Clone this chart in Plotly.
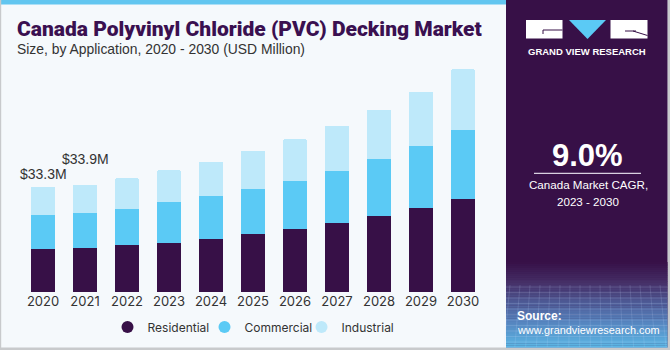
import plotly.graph_objects as go

years = ["2020", "2021", "2022", "2023", "2024", "2025", "2026", "2027", "2028", "2029", "2030"]
residential = [13.6, 13.8, 14.8, 15.5, 16.9, 18.4, 19.9, 22.0, 24.2, 26.6, 29.6]
commercial = [10.7, 11.2, 11.6, 12.9, 13.5, 14.3, 15.4, 16.4, 18.0, 19.7, 21.9]
industrial = [9.0, 8.9, 9.7, 10.2, 10.9, 12.1, 13.1, 14.2, 15.5, 17.1, 19.1]
series_names = ["Residential", "Commercial", "Industrial"]
labelled_years = ["2020", "2021"]
label_texts = ["$33.3M", "$33.9M"]

C_RES = "#371047"
C_COM = "#5BCAF5"
C_IND = "#BEE9FA"
BG = "#F5F9FC"
PANEL = "#371047"

W, H = 670, 350
ML, MR, MT, MB = 22, 186, 40, 58
PW = W - ML - MR
PH = H - MT - MB


def px(x):
    return (x - ML) / PW


def py(y):
    return (H - MB - y) / PH


fig = go.Figure()
for name, vals, col in zip(series_names, [residential, commercial, industrial], [C_RES, C_COM, C_IND]):
    fig.add_trace(go.Bar(x=years, y=vals, name=name, marker=dict(color=col, line=dict(width=0)),
                         showlegend=False, hoverinfo="skip"))
for name, col in zip(series_names, [C_RES, C_COM, C_IND]):
    fig.add_trace(go.Scatter(x=[None], y=[None], mode="markers", name=name,
                             marker=dict(symbol="circle", size=12, color=col)))

totals = [r + c + i for r, c, i in zip(residential, commercial, industrial)]
shifts = [13, 26]
for yr, txt, sh in zip(labelled_years, label_texts, shifts):
    k = years.index(yr)
    fig.add_annotation(x=k, y=totals[k], text=txt, showarrow=False, yanchor="middle", yshift=sh,
                       font=dict(family="Liberation Sans", size=14, color="#333333"))

shapes = []
# top blue strip
shapes.append(dict(type="rect", xref="paper", yref="paper", x0=px(0), x1=px(506), y0=py(0), y1=py(4.5),
                   fillcolor="#62C6F0", line=dict(width=0), layer="below"))
# borders
shapes.append(dict(type="rect", xref="paper", yref="paper", x0=px(0), x1=px(1.2), y0=py(0), y1=py(350),
                   fillcolor="#C8CACC", line=dict(width=0), layer="below"))
shapes.append(dict(type="rect", xref="paper", yref="paper", x0=px(0), x1=px(670), y0=py(347.5), y1=py(350),
                   fillcolor="#C8CACC", line=dict(width=0), layer="below"))
shapes.append(dict(type="rect", xref="paper", yref="paper", x0=px(667.5), x1=px(670), y0=py(0), y1=py(350),
                   fillcolor="#C8CACC", line=dict(width=0), layer="below"))
# right panel
shapes.append(dict(type="rect", xref="paper", yref="paper", x0=px(506), x1=px(667.5), y0=py(0), y1=py(347.5),
                   fillcolor=PANEL, line=dict(width=0), layer="below"))


def lerp(c1, c2, t):
    a = [int(c1[i:i + 2], 16) for i in (1, 3, 5)]
    b = [int(c2[i:i + 2], 16) for i in (1, 3, 5)]
    return "#%02x%02x%02x" % tuple(int(round(a[j] + (b[j] - a[j]) * t)) for j in range(3))


stops = [(262, "#371047"), (283, "#463068"), (300, "#4d5590"), (320, "#5580bb"), (347.5, "#5cb8e6")]
for (y0, c0), (y1, c1) in zip(stops[:-1], stops[1:]):
    n = int((y1 - y0) / 2) + 1
    for i in range(n):
        ya = y0 + (y1 - y0) * i / n
        yb = y0 + (y1 - y0) * (i + 1) / n
        shapes.append(dict(type="rect", xref="paper", yref="paper", x0=px(506), x1=px(667.5),
                           y0=py(ya), y1=py(yb + 0.3), fillcolor=lerp(c0, c1, (i + 0.5) / n),
                           line=dict(width=0), layer="below"))
# faint grid lines in the panel bottom
for k in range(12):
    yy = 287 + k * 5.5
    shapes.append(dict(type="line", xref="paper", yref="paper", x0=px(506), x1=px(667.5), y0=py(yy), y1=py(yy),
                       line=dict(color="rgba(200,220,255,0.18)", width=1), layer="below"))
for k in range(17):
    xx = 510 + k * 10
    shapes.append(dict(type="line", xref="paper", yref="paper", x0=px(xx), x1=px(xx - 6 + k * 0.8), y0=py(285),
                       y1=py(347), line=dict(color="rgba(200,220,255,0.15)", width=1), layer="below"))

# logo
shapes.append(dict(type="rect", xref="paper", yref="paper", x0=px(526), x1=px(562.5), y0=py(20), y1=py(38.5),
                   fillcolor="white", line=dict(width=0)))
shapes.append(dict(type="rect", xref="paper", yref="paper", x0=px(610.5), x1=px(647.5), y0=py(20), y1=py(38.5),
                   fillcolor="white", line=dict(width=0)))
shapes.append(dict(type="path", xref="paper", yref="paper",
                   path="M %f %f L %f %f L %f %f Z" % (px(569), py(20), px(606), py(20), px(587.5), py(39)),
                   fillcolor="#5BCAF5", line=dict(width=0)))
shapes.append(dict(type="line", xref="paper", yref="paper", x0=px(543), x1=px(562.5), y0=py(30), y1=py(30),
                   line=dict(color=PANEL, width=1)))
shapes.append(dict(type="line", xref="paper", yref="paper", x0=px(543), x1=px(543), y0=py(30), y1=py(34),
                   line=dict(color=PANEL, width=1)))
shapes.append(dict(type="line", xref="paper", yref="paper", x0=px(633), x1=px(647.5), y0=py(31), y1=py(35.5),
                   line=dict(color=PANEL, width=1)))
shapes.append(dict(type="line", xref="paper", yref="paper", x0=px(625), x1=px(636), y0=py(31), y1=py(31),
                   line=dict(color=PANEL, width=1)))
# CAGR divider
shapes.append(dict(type="line", xref="paper", yref="paper", x0=px(534), x1=px(641), y0=py(173.3), y1=py(173.3),
                   line=dict(color="#D8D0E0", width=1.3)))

fig.update_layout(shapes=shapes)


def ann(x, y, text, size, color, family="Liberation Sans", xanchor="center", weight=None):
    f = dict(family=family, size=size, color=color)
    if weight:
        f["weight"] = weight
    fig.add_annotation(xref="paper", yref="paper", x=px(x), y=py(y), text=text, showarrow=False,
                       xanchor=xanchor, yanchor="middle", font=f)


ann(15, 29.5, "Canada Polyvinyl Chloride (PVC) Decking Market", 21, "#3A1050", family="Roboto",
    xanchor="left", weight=900)
ann(15, 48.5, "Size, by Application, 2020 - 2030 (USD Million)", 13.9, "#333333", xanchor="left")
ann(587, 51.5, "GRAND VIEW RESEARCH", 9.5, "white", weight="bold")
ann(587.5, 155, "9.0%", 31, "white", weight="bold")
ann(588, 184.5, "Canada Market CAGR,", 11.6, "white")
ann(588, 201.5, "2023 - 2030", 11.6, "white")
ann(515, 316, "Source:", 12, "white", xanchor="left", weight="bold")
ann(515, 329.5, "www.grandviewresearch.com", 10.9, "white", xanchor="left")

fig.update_layout(
    width=W, height=H,
    margin=dict(l=ML, r=MR, t=MT, b=MB, pad=0, autoexpand=False),
    paper_bgcolor=BG, plot_bgcolor=BG,
    barmode="stack", bargap=0.42, barcornerradius=2,
    xaxis=dict(type="category", range=[-0.5, 10.5], showgrid=False, showline=False, zeroline=False,
               ticks="", tickfont=dict(family="Inter", size=13, color="#333333"), fixedrange=True,
               automargin=False),
    yaxis=dict(range=[0, PH / 3.155], visible=False, fixedrange=True, automargin=False),
    legend=dict(orientation="h", x=0.5, xanchor="center", yref="container", y=(H - 327) / H,
                yanchor="middle", entrywidth=52, entrywidthmode="pixels",
                font=dict(family="Inter", size=12, color="#333333"), bgcolor="rgba(0,0,0,0)",
                itemwidth=30, traceorder="normal"),
    showlegend=True,
)

fig.write_html("out.html")
